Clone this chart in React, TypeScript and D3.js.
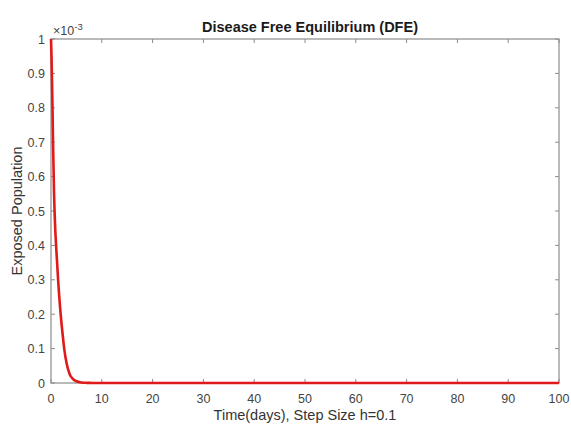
import React from "react";
import * as d3 from "d3";

const timeDays = [0, 0.1, 0.2, 0.3, 0.4, 0.6, 0.8, 1.0, 1.4, 1.9, 2.3, 2.6, 3.1, 3.7, 4.3, 5, 6, 7, 8, 10, 20, 50, 100];
const exposedE3 = [1, 0.95, 0.88, 0.8, 0.7, 0.55, 0.46, 0.4, 0.3, 0.2, 0.14, 0.1, 0.055, 0.025, 0.012, 0.005, 0.0015, 0.0005, 0.0002, 0, 0, 0, 0];
const xTicks = [0, 10, 20, 30, 40, 50, 60, 70, 80, 90, 100];
const yTicks = [0, 0.1, 0.2, 0.3, 0.4, 0.5, 0.6, 0.7, 0.8, 0.9, 1];

const W = 571, H = 431;
const L = 51, R = 559, T = 39, B = 383;

export default function App() {
  const x = d3.scaleLinear().domain([0, 100]).range([L, R]);
  const y = d3.scaleLinear().domain([0, 1]).range([B, T]);
  const pts: [number, number][] = timeDays.map((t, i) => [t, exposedE3[i]]);
  const line = d3.line<[number, number]>().x(d => x(d[0])).y(d => y(d[1])).curve(d3.curveMonotoneX);
  const axisCol = "#8c8c8c";
  const textCol = "#444";
  const font = "'Liberation Sans', Arial, sans-serif";
  return (
    <svg width={W} height={H} style={{ position: "absolute", left: 0, top: 0, background: "#fff" }} fontFamily={font}>
      <rect x={0} y={0} width={W} height={H} fill="#fff" />
      <rect x={L} y={T} width={R - L} height={B - T} fill="none" stroke={axisCol} strokeWidth={1.2} />
      {xTicks.map(t => (
        <g key={"x" + t}>
          <line x1={x(t)} x2={x(t)} y1={B} y2={B - 4} stroke={axisCol} />
          <line x1={x(t)} x2={x(t)} y1={T} y2={T + 4} stroke={axisCol} />
          <text x={x(t)} y={403} textAnchor="middle" fontSize={12.5} fill={textCol}>{t}</text>
        </g>
      ))}
      {yTicks.map(t => (
        <g key={"y" + t}>
          <line x1={L} x2={L + 4} y1={y(t)} y2={y(t)} stroke={axisCol} />
          <line x1={R} x2={R - 4} y1={y(t)} y2={y(t)} stroke={axisCol} />
          <text x={45} y={y(t) + 4.5} textAnchor="end" fontSize={12.5} fill={textCol}>{t}</text>
        </g>
      ))}
      <path d={line(pts) || ""} fill="none" stroke="#e01a1a" strokeWidth={2.6} />
      <text x={53} y={35} fontSize={12.5} fill={textCol}>
        ×10<tspan dy={-5} fontSize={9.5}>-3</tspan>
      </text>
      <text x={310} y={32} textAnchor="middle" fontSize={14.5} fontWeight="bold" fill="#1a1a1a">Disease Free Equilibrium (DFE)</text>
      <text x={305} y={420} textAnchor="middle" fontSize={14.5} fill="#333">Time(days), Step Size h=0.1</text>
      <text transform={`translate(22,${(T + B) / 2}) rotate(-90)`} textAnchor="middle" fontSize={14.5} fill="#333">Exposed Population</text>
    </svg>
  );
}
